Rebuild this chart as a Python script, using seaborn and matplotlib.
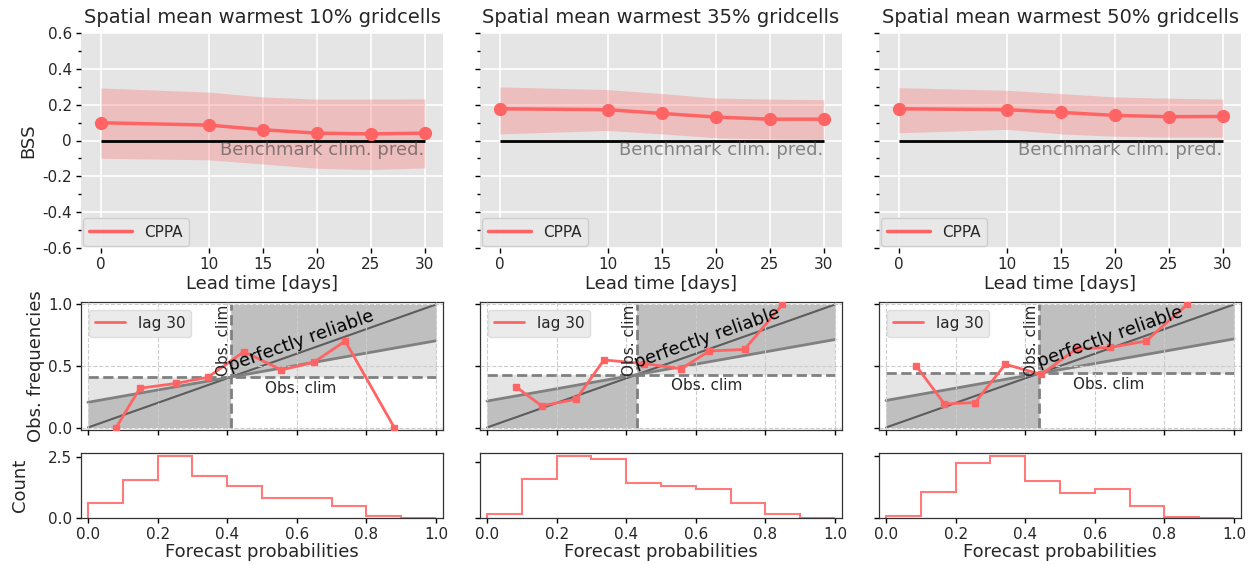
import numpy as np
import pandas as pd
import matplotlib
matplotlib.use("Agg")
import matplotlib.pyplot as plt
import seaborn as sns
from matplotlib.ticker import MultipleLocator, FixedLocator, MaxNLocator, FuncFormatter

sns.set_theme(style="white")
plt.rcParams['font.family'] = ['DejaVu Sans']
plt.rcParams['axes.unicode_minus'] = False

# ---------------- data ----------------
titles = ["Spatial mean warmest 10% gridcells",
          "Spatial mean warmest 35% gridcells",
          "Spatial mean warmest 50% gridcells"]
lead_times = [0, 10, 15, 20, 25, 30]
bss_mean_10 = [0.099, 0.086, 0.060, 0.041, 0.037, 0.041]
bss_mean_35 = [0.177, 0.172, 0.151, 0.131, 0.119, 0.119]
bss_mean_50 = [0.177, 0.172, 0.157, 0.140, 0.133, 0.134]
bss_upper_10 = [0.293, 0.270, 0.243, 0.231, 0.231, 0.232]
bss_upper_35 = [0.299, 0.284, 0.262, 0.237, 0.231, 0.228]
bss_upper_50 = [0.295, 0.280, 0.262, 0.243, 0.236, 0.231]
bss_lower_10 = [-0.099, -0.108, -0.131, -0.155, -0.162, -0.153]
bss_lower_35 = [0.037, 0.056, 0.037, 0.015, 0.009, 0.006]
bss_lower_50 = [0.043, 0.062, 0.037, 0.024, 0.019, 0.019]

obs_clim = [0.41, 0.43, 0.44]
rel_prob_10 = [0.081, 0.149, 0.254, 0.344, 0.448, 0.556, 0.649, 0.739, 0.880]
rel_freq_10 = [0.000, 0.319, 0.359, 0.408, 0.616, 0.468, 0.530, 0.703, 0.000]
rel_prob_35 = [0.083, 0.157, 0.256, 0.336, 0.450, 0.558, 0.639, 0.740, 0.849]
rel_freq_35 = [0.332, 0.176, 0.230, 0.549, 0.520, 0.478, 0.622, 0.635, 1.000]
rel_prob_50 = [0.087, 0.168, 0.256, 0.343, 0.446, 0.548, 0.645, 0.747, 0.866]
rel_freq_50 = [0.500, 0.192, 0.203, 0.514, 0.432, 0.640, 0.651, 0.703, 1.000]

bin_edges = [0.0, 0.1, 0.2, 0.3, 0.4, 0.5, 0.6, 0.7, 0.8, 0.9, 1.0]
hist_dens_10 = [0.63, 1.56, 2.54, 1.71, 1.31, 0.84, 0.84, 0.48, 0.08, 0.005]
hist_dens_35 = [0.145, 1.40, 2.21, 2.10, 1.26, 1.15, 1.04, 0.544, 0.145, 0.0]
hist_dens_50 = [0.08, 1.04, 2.21, 2.48, 1.49, 1.00, 1.15, 0.49, 0.04, 0.005]

prob_range = [0.0, 1.0]

bss_mean = [bss_mean_10, bss_mean_35, bss_mean_50]
bss_upper = [bss_upper_10, bss_upper_35, bss_upper_50]
bss_lower = [bss_lower_10, bss_lower_35, bss_lower_50]
rel_prob = [rel_prob_10, rel_prob_35, rel_prob_50]
rel_freq = [rel_freq_10, rel_freq_35, rel_freq_50]
hist_dens = [hist_dens_10, hist_dens_35, hist_dens_50]

RED = '#ff6464'
W, H = 1256, 564
fig = plt.figure(figsize=(W / 100, H / 100), dpi=100)

lefts = [81, 480, 879]
width = 362
TICK_LEN = 3.5


def ax_at(left, top, bottom):
    return fig.add_axes([left / W, (H - bottom) / H, width / W, (bottom - top) / H])


def fmt_bss(v, pos):
    if abs(v) < 1e-9:
        return '0'
    return '%.1f' % v


for i in range(3):
    # ---------- top: BSS vs lead time ----------
    ax = ax_at(lefts[i], 33, 248)
    ax.set_facecolor('#e5e5e5')
    for s in ax.spines.values():
        s.set_visible(False)
    ax.grid(True, which='major', color='white', lw=1.2)
    ax.set_axisbelow(True)
    ax.fill_between(lead_times, bss_lower[i], bss_upper[i], color=RED, alpha=0.3, lw=0)
    ax.hlines(0, lead_times[0], lead_times[-1], color='black', lw=2, zorder=3)
    df = pd.DataFrame({'lead': lead_times, 'bss': bss_mean[i]})
    sns.lineplot(data=df, x='lead', y='bss', ax=ax, color=RED, lw=2.5, label='CPPA', zorder=4)
    ax.plot(df['lead'], df['bss'], 'o', color=RED, ms=8.5, zorder=5)
    ax.text(lead_times[-1], -0.004, 'Benchmark clim. pred.', ha='right', va='top',
            fontsize=13, color='#404040', alpha=0.6, zorder=6)
    ax.set_xlim(-1.85, 31.7)
    ax.set_ylim(-0.6, 0.6)
    ax.xaxis.set_major_locator(FixedLocator(lead_times))
    ax.yaxis.set_major_locator(MultipleLocator(0.2))
    ax.yaxis.set_minor_locator(MultipleLocator(0.1))
    ax.yaxis.set_major_formatter(FuncFormatter(fmt_bss))
    ax.tick_params(axis='both', which='major', direction='out', length=TICK_LEN, width=1,
                   color='black', labelsize=11, left=True, bottom=True, pad=3)
    ax.tick_params(axis='y', which='minor', direction='out', length=2.2, width=1,
                   color='black', left=True)
    ax.set_title(titles[i], fontsize=14, pad=7)
    ax.set_xlabel('Lead time [days]', fontsize=13, labelpad=2)
    if i == 0:
        ax.set_ylabel('BSS', fontsize=13)
        ax.yaxis.set_label_coords(-0.12, 0.5)
    else:
        ax.set_ylabel('')
        ax.set_yticklabels([])
    leg = ax.legend(loc='lower left', fontsize=11, handlelength=2.8, borderaxespad=0.15,
                    facecolor='#e9e9e9', edgecolor='#cccccc', framealpha=0.9)
    leg.get_frame().set_linewidth(1)

    # ---------- middle: reliability ----------
    ax2 = ax_at(lefts[i], 302, 430)
    ax2.set_facecolor('white')
    c = obs_clim[i]
    ax2.set_xlim(-0.02, 1.02)
    ax2.set_ylim(-0.02, 1.02)
    xl = np.array([prob_range[0], c])
    xr = np.array([c, prob_range[1]])
    noskill = lambda x: c + 0.5 * (x - c)
    ax2.fill_between(xl, 0, noskill(xl), color='grey', alpha=0.5, lw=0, zorder=1)
    ax2.fill_between(xl, noskill(xl), c, color='grey', alpha=0.2, lw=0, zorder=1)
    ax2.fill_between(xr, noskill(xr), 1, color='grey', alpha=0.5, lw=0, zorder=1)
    ax2.fill_between(xr, c, noskill(xr), color='grey', alpha=0.2, lw=0, zorder=1)
    pr = np.array(prob_range)
    ax2.plot(pr, pr, color='#444444', lw=1.5, alpha=0.8, zorder=2)
    ax2.plot(pr, noskill(pr), color='grey', lw=2, zorder=2)
    ax2.hlines(c, prob_range[0], prob_range[1], colors='grey', linestyles='--', lw=2, zorder=2)
    ax2.vlines(c, prob_range[0], prob_range[1], colors='grey', linestyles='--', lw=2, zorder=2)
    dfr = pd.DataFrame({'p': rel_prob[i], 'f': rel_freq[i]})
    sns.lineplot(data=dfr, x='p', y='f', ax=ax2, color=RED, lw=2, label='lag 30',
                 sort=False, zorder=4)
    ax2.plot(dfr['p'], dfr['f'], 's', color=RED, ms=4, zorder=5)
    ax2.grid(True, ls='--', color='#cccccc', lw=0.8)
    ax2.set_axisbelow(False)
    for s in ax2.spines.values():
        s.set_color('#333333')
        s.set_linewidth(0.9)
        s.set_visible(True)
    ax2.xaxis.set_major_locator(MultipleLocator(0.2))
    ax2.yaxis.set_major_locator(MultipleLocator(0.5))
    ax2.tick_params(axis='both', direction='out', length=TICK_LEN, width=1, color='black',
                    labelsize=11, left=True, bottom=True, pad=3)
    ax2.set_xticklabels([])
    ax2.set_xlabel('')
    # annotations
    p0 = ax2.transData.transform((0, 0))
    p1 = ax2.transData.transform((1, 1))
    ang = np.degrees(np.arctan2(p1[1] - p0[1], p1[0] - p0[0]))
    ax2.text(c + 0.005, c + 0.02, 'perfectly reliable', rotation=ang, rotation_mode='anchor',
             ha='left', va='bottom', fontsize=13, color='black', zorder=6)
    ax2.text(c, 1.0, 'Obs. clim', rotation=90, ha='right', va='top', fontsize=11, zorder=6)
    ax2.text(c + 0.2, c - 0.03, 'Obs. clim', ha='center', va='top', fontsize=11, zorder=6)
    if i == 0:
        ax2.set_ylabel('Obs. frequencies', fontsize=13)
        ax2.yaxis.set_label_coords(-0.10, 0.5)
    else:
        ax2.set_ylabel('')
        ax2.set_yticklabels([])
    leg2 = ax2.legend(loc='upper left', fontsize=11, facecolor='#ebebeb',
                      edgecolor='#dddddd', framealpha=1)

    # ---------- bottom: histogram ----------
    ax3 = ax_at(lefts[i], 453, 518)
    ax3.set_facecolor('white')
    centers = [(a + b) / 2 for a, b in zip(bin_edges[:-1], bin_edges[1:])]
    ax3.hist(centers, bins=bin_edges, weights=hist_dens[i], histtype='step',
             color=RED, alpha=0.85, lw=1.5)
    ax3.set_xlim(-0.02, 1.02)
    ax3.set_ylim(bottom=0)
    ax3.xaxis.set_major_locator(MultipleLocator(0.2))
    ax3.yaxis.set_major_locator(MaxNLocator(nbins=1, steps=[1, 2, 2.5, 5, 10]))
    for s in ax3.spines.values():
        s.set_color('#333333')
        s.set_linewidth(0.9)
        s.set_visible(True)
    ax3.tick_params(axis='both', direction='out', length=TICK_LEN, width=1, color='black',
                    labelsize=11, left=True, bottom=True, pad=3)
    ax3.set_xlabel('Forecast probabilities', fontsize=13, labelpad=1)
    if i == 0:
        ax3.set_ylabel('Count', fontsize=13)
        ax3.yaxis.set_label_coords(-0.145, 0.5)
    else:
        ax3.set_yticklabels([])

fig.savefig('out.png', dpi=100)
